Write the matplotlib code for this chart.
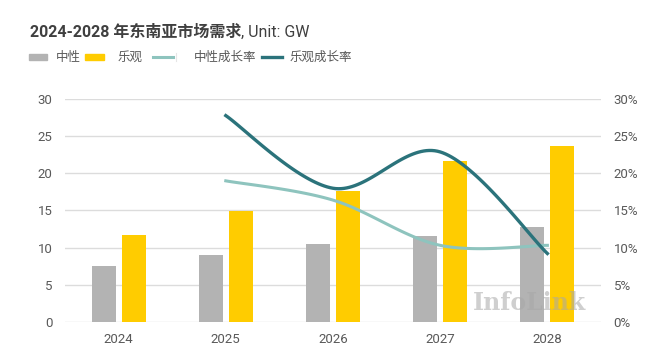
import numpy as np
import matplotlib
matplotlib.use("Agg")
import matplotlib.pyplot as plt
from matplotlib.ticker import PercentFormatter
from matplotlib.patches import Rectangle
from matplotlib.lines import Line2D

plt.rcParams['font.family'] = ['Roboto', 'Noto Sans CJK SC', 'DejaVu Sans']

years = ['2024', '2025', '2026', '2027', '2028']
neutral = [7.5, 9.0, 10.5, 11.6, 12.8]
optimistic = [11.7, 14.9, 17.6, 21.7, 23.7]
growth_years = ['2025', '2026', '2027', '2028']
neutral_growth = [19.0, 16.4, 10.3, 10.3]
optimistic_growth = [27.8, 18.0, 22.9, 9.2]

GRAY = '#b3b3b3'
YELLOW = '#ffcc00'
LTEAL = '#8ec4be'
DTEAL = '#2b737b'
TXT = '#595959'
W, H = 672, 360


def smooth(xs, ys, n=40):
    # excel-style smoothed line (catmull-rom through the points)
    xs = np.asarray(xs, float)
    ys = np.asarray(ys, float)
    px = np.concatenate([[xs[0]], xs, [xs[-1]]])
    py = np.concatenate([[ys[0]], ys, [ys[-1]]])
    outx, outy = [], []
    for i in range(1, len(px) - 2):
        t = np.linspace(0, 1, n)
        mx0 = (px[i + 1] - px[i - 1]) / 2
        mx1 = (px[i + 2] - px[i]) / 2
        my0 = (py[i + 1] - py[i - 1]) / 2
        my1 = (py[i + 2] - py[i]) / 2
        h00 = 2 * t**3 - 3 * t**2 + 1
        h10 = t**3 - 2 * t**2 + t
        h01 = -2 * t**3 + 3 * t**2
        h11 = t**3 - t**2
        outx.append(h00 * px[i] + h10 * mx0 + h01 * px[i + 1] + h11 * mx1)
        outy.append(h00 * py[i] + h10 * my0 + h01 * py[i + 1] + h11 * my1)
    return np.concatenate(outx), np.concatenate(outy)


fig = plt.figure(figsize=(6.72, 3.6), dpi=100)
ax = fig.add_axes([0.0967, 0.1064, 0.7976, 0.6178])

x = np.arange(len(years))
w = 0.225
ax.bar(x - 0.14, neutral, w, color=GRAY, zorder=2)
ax.bar(x + 0.14, optimistic, w, color=YELLOW, zorder=2)
ax.set_xlim(-0.5, 4.5)
ax.set_ylim(0, 30)
ax.set_yticks(range(0, 31, 5))
ax.set_xticks(x)
ax.set_xticklabels(years)
ax.grid(axis='y', color='#dcdcdc', lw=1, zorder=0)
for s in ax.spines.values():
    s.set_visible(False)
ax.tick_params(length=0, colors=TXT, labelsize=9.5)
ax.tick_params(axis='y', pad=9)
ax.tick_params(axis='x', pad=8)

ax2 = ax.twinx()
gx = np.array([years.index(y) for y in growth_years])
sx, sy = smooth(gx, neutral_growth)
ax2.plot(sx, sy, color=LTEAL, lw=2.2)
sx, sy = smooth(gx, optimistic_growth)
ax2.plot(sx, sy, color=DTEAL, lw=2.4)
ax2.set_ylim(0, 30)
ax2.set_yticks(range(0, 31, 5))
ax2.yaxis.set_major_formatter(PercentFormatter(decimals=0))
for s in ax2.spines.values():
    s.set_visible(False)
ax2.tick_params(length=0, colors=TXT, labelsize=9.5, pad=9)

# title: bold part then regular part right after it
t1 = fig.text(30 / W, 1 - 32 / H, '2024-2028 年东南亚市场需求', fontsize=11.5, fontweight='bold',
              color='#404040', va='center')
fig.canvas.draw()
bb = t1.get_window_extent()
fig.text(bb.x1 / W, 1 - 32 / H, ', Unit: GW', fontsize=11.5, color='#404040', va='center')

# legend, laid out by hand like the original
ly = 1 - 57 / H
fig.add_artist(Rectangle((29 / W, ly - 3 / H), 18 / W, 6 / H, color=GRAY, transform=fig.transFigure))
fig.text(56 / W, ly, '中性', fontsize=9, color=TXT, va='center')
fig.add_artist(Rectangle((85 / W, ly - 3 / H), 19 / W, 6 / H, color=YELLOW, transform=fig.transFigure))
fig.text(118 / W, ly, '乐观', fontsize=9, color=TXT, va='center')
fig.add_artist(Line2D([153 / W, 173 / W], [ly, ly], color=LTEAL, lw=2.2, transform=fig.transFigure))
fig.add_artist(Line2D([176 / W, 176 / W], [ly - 4 / H, ly + 4 / H], color='#e6e6e6', lw=0.8,
                      transform=fig.transFigure))
fig.text(194 / W, ly, '中性成长率', fontsize=9, color=TXT, va='center')
fig.add_artist(Line2D([262 / W, 282 / W], [ly, ly], color=DTEAL, lw=2.4, transform=fig.transFigure))
fig.text(290 / W, ly, '乐观成长率', fontsize=9, color=TXT, va='center')

fig.text(530 / W, 1 - 303 / H, 'InfoLink', fontsize=17, fontweight='bold', family='DejaVu Serif',
         color='#a8a8a8', alpha=0.55, ha='center', va='center', zorder=10)

fig.savefig('out.png', dpi=100)
